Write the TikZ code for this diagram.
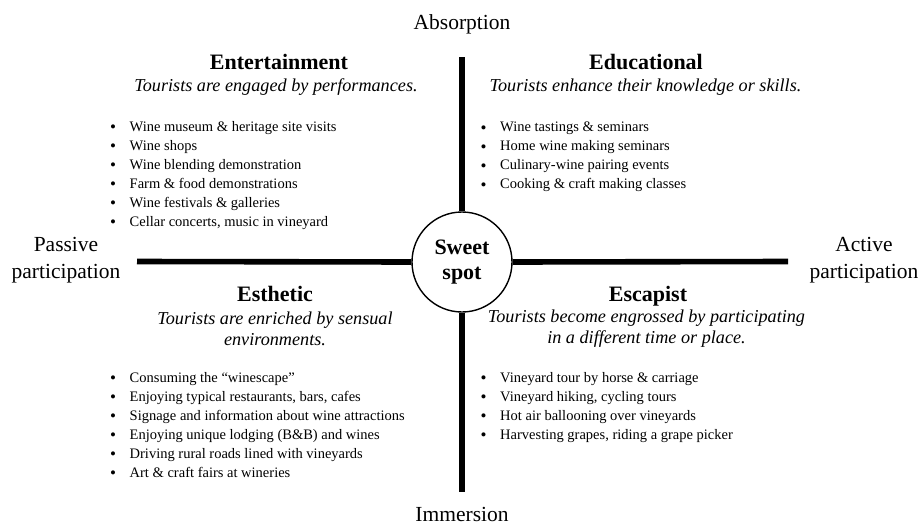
\documentclass[tikz,border=0pt]{standalone}
\usepackage{fontspec}
\setmainfont{Liberation Serif}
\newcommand{\itm}{\makebox[19pt][l]{\hspace{-0.5pt}\raisebox{-1.6pt}{\fontsize{17}{19}\selectfont\textbullet}}}
\begin{document}
\begin{tikzpicture}[x=1pt,y=-1pt,
  axislbl/.style={font=\fontsize{21.5}{27}\selectfont, align=center, inner sep=0pt},
  ttl/.style={font=\fontsize{22}{26}\selectfont\bfseries, inner sep=0pt, anchor=base},
  sub/.style={font=\fontsize{18.2}{21}\selectfont\itshape, align=center, inner sep=0pt},
  lst/.style={font=\fontsize{14.5}{19}\selectfont, align=left, inner sep=0pt, anchor=north west},
  bar/.style={line width=5.6pt}
]
\useasboundingbox (0,0) rectangle (918,525);
\node[circle, draw, line width=1.4pt, minimum size=100pt, inner sep=0pt, align=center,
  font=\fontsize{22}{25}\selectfont\bfseries] (ss) at (462,262) {Sweet\\spot};
\coordinate (top) at (462,57);
\coordinate (bot) at (462,492);
\coordinate (lft) at (137,261.5);
\coordinate (rgt) at (788,261.5);
\draw[bar] (top) -- (ss.north);
\draw[bar] (ss.south) -- (bot);
\draw[bar] (lft) -- (ss.west);
\draw[bar] (ss.east) -- (rgt);

\node[axislbl] (abs) at (462,24) {Absorption};
\node[axislbl] (imm) at (462,514) {Immersion};
\node[axislbl] (pas) at (66,260) {Passive\\participation};
\node[axislbl] (act) at (864,260) {Active\\participation};

\node[ttl] (ent) at (279,69) {Entertainment};
\node[sub] (ents) at (276,87) {Tourists are engaged by performances.};
\node[lst] (entl) at (110.5,121) {%
\itm Wine museum \& heritage site visits\\
\itm Wine shops\\
\itm Wine blending demonstration\\
\itm Farm \& food demonstrations\\
\itm Wine festivals \& galleries\\
\itm Cellar concerts, music in vineyard};

\node[ttl] (edu) at (646,69) {Educational};
\node[sub] (edus) at (645.5,87) {Tourists enhance their knowledge or skills.};
\node[lst] (edul) at (481,122) {%
\itm Wine tastings \& seminars\\
\itm Home wine making seminars\\
\itm Culinary-wine pairing events\\
\itm Cooking \& craft making classes};

\node[ttl] (est) at (275,301) {Esthetic};
\node[sub] (ests) at (275,329) {Tourists are enriched by sensual\\environments.};
\node[lst] (estl) at (110.5,372) {%
\itm Consuming the “winescape”\\
\itm Enjoying typical restaurants, bars, cafes\\
\itm Signage and information about wine attractions\\
\itm Enjoying unique lodging (B\&B) and wines\\
\itm Driving rural roads lined with vineyards\\
\itm Art \& craft fairs at wineries};

\node[ttl] (esc) at (648,301) {Escapist};
\node[sub] (escs) at (646.5,329) {Tourists become engrossed by participating\\in a different time or place.};
\node[lst] (escl) at (481,372) {%
\itm Vineyard tour by horse \& carriage\\
\itm Vineyard hiking, cycling tours\\
\itm Hot air ballooning over vineyards\\
\itm Harvesting grapes, riding a grape picker};
\end{tikzpicture}
\end{document}
